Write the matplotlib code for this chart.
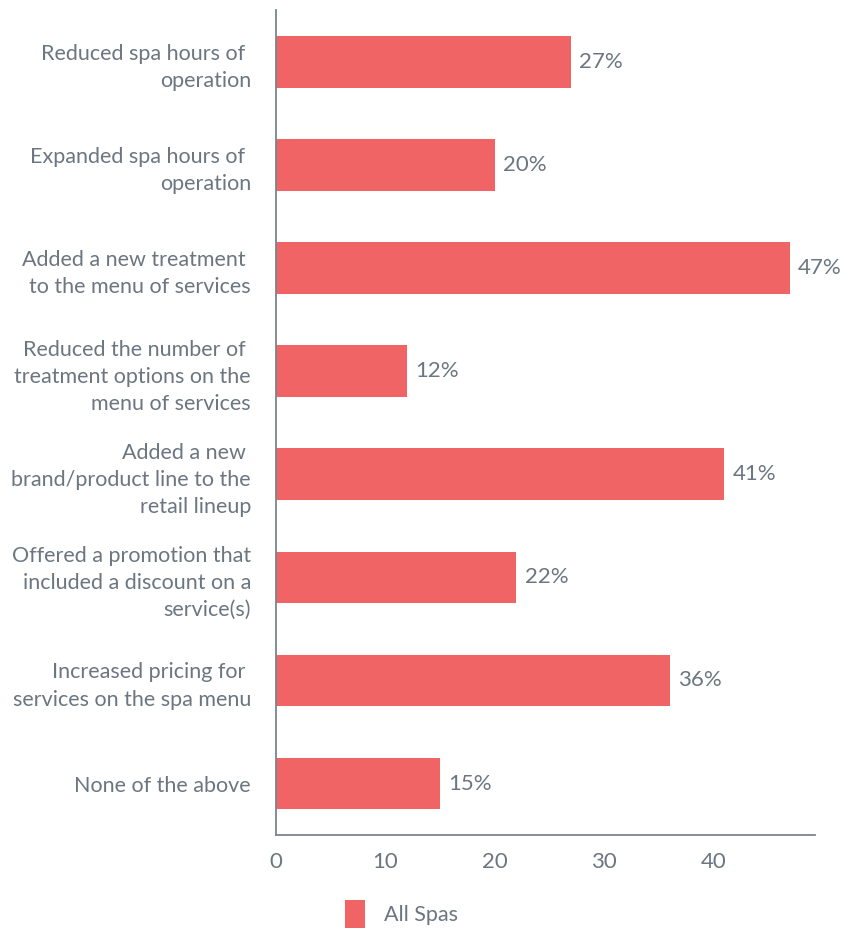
import numpy as np
import matplotlib.pyplot as plt
from matplotlib.patches import Patch

# survey categories and share of spas (%)
categories = [
    "Reduced spa hours of \noperation",
    "Expanded spa hours of \noperation",
    "Added a new treatment \nto the menu of services",
    "Reduced the number of \ntreatment options on the\nmenu of services",
    "Added a new \nbrand/product line to the\nretail lineup",
    "Offered a promotion that\nincluded a discount on a\nservice(s)",
    "Increased pricing for \nservices on the spa menu",
    "None of the above",
]
values = [27, 20, 47, 12, 41, 22, 36, 15]
xticks = [0, 10, 20, 30, 40]

bar_color = "#F06466"
text_color = "#6B7680"
axis_color = "#7A8590"

plt.rcParams['font.family'] = ['Lato', 'DejaVu Sans']

fig = plt.figure(figsize=(8.44, 9.31), dpi=100)
ax = fig.add_axes([0.327, 0.103, 0.6385, 0.886])

y = np.arange(len(categories))
bars = ax.barh(y, values, height=0.5, color=bar_color)

for b, v in zip(bars, values):
    ax.text(b.get_width() + 0.75, b.get_y() + b.get_height() / 2, f"{v}%",
            va='center', ha='left', fontsize=16, color=text_color)

ax.set_ylim(len(categories) - 0.5, -0.5)
ax.set_xlim(0, 49.3)
ax.set_yticks(y)
ax.set_yticklabels(categories, fontsize=15.5, color=text_color, linespacing=1.45)
ax.set_xticks(xticks)
ax.set_xticklabels([str(t) for t in xticks], fontsize=16, color=text_color)
ax.tick_params(axis='y', length=0, pad=18)
ax.tick_params(axis='x', length=0, pad=12)

for s in ['top', 'right']:
    ax.spines[s].set_visible(False)
for s in ['left', 'bottom']:
    ax.spines[s].set_color(axis_color)
    ax.spines[s].set_linewidth(1.3)

handles = [Patch(facecolor=bar_color, label="All Spas")]
fig.legend(handles=handles, loc='center', bbox_to_anchor=(0.476, 0.018),
           frameon=False, fontsize=15.5, labelcolor=text_color,
           handlelength=0.9, handleheight=1.6, handletextpad=0.9)

fig.savefig("out.png", dpi=100)
